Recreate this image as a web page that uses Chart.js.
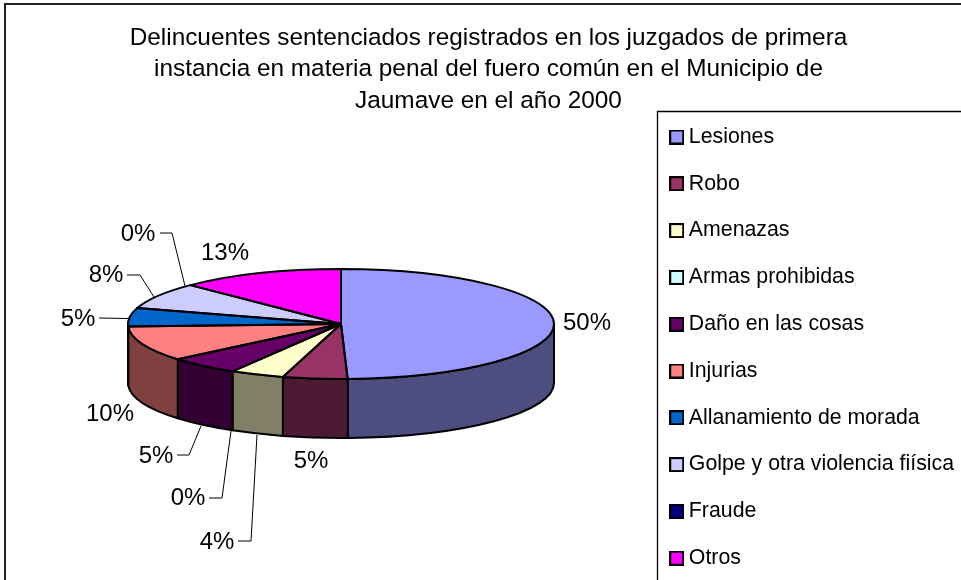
<!DOCTYPE html>
<html>
<head>
<meta charset="utf-8">
<style>
html,body{margin:0;padding:0;background:#fff;}
#wrap{position:relative;width:961px;height:580px;overflow:hidden;}
canvas{display:block;}
</style>
<script src="https://cdn.jsdelivr.net/npm/chart.js@4/dist/chart.umd.min.js"></script>
</head>
<body>
<div id="wrap"><canvas id="c" width="961" height="580"></canvas></div>
<script>
const titleLines = [
  "Delincuentes sentenciados registrados en los juzgados de primera",
  "instancia en materia penal del fuero común en el Municipio de",
  "Jaumave en el año 2000"
];
const categories = ["Lesiones","Robo","Amenazas","Armas prohibidas","Daño en las cosas","Injurias","Allanamiento de morada","Golpe y otra violencia fiísica","Fraude","Otros"];
const shares = [49.5,4.9,4.1,0,5.4,10.4,5.4,7.8,0,12.5];
const shareLabels = ["50%","5%","4%","0%","5%","10%","5%","8%","0%","13%"];
const sliceColors = ["#9999FF","#993366","#FFFFCC","#CCFFFF","#660066","#FF8080","#0066CC","#CCCCFF","#000080","#FF00FF"];

// Layout (not data)
const FONT = '"Liberation Sans", Arial, sans-serif';
const PIE = {cx:341, cy:324, rx:213, ry:55, depth:59};
const labelSpots = {
  0:{x:587,y:323}, 1:{x:311,y:461},
  2:{x:217,y:542,lead:[[238,541],[251,541],[257,435]]},
  3:{x:188,y:498,lead:[[209,498],[222,498],[231,431]]},
  4:{x:156,y:456,lead:[[177,455],[189,455],[201,426]]},
  5:{x:110,y:414},
  6:{x:78,y:319,lead:[[99,318],[128,318.5]]},
  7:{x:106,y:275,lead:[[127,275],[140,275],[154,297]]},
  8:{x:138,y:234,lead:[[160,233],[172,233],[185,286]]},
  9:{x:225,y:253}
};

function shade(hex){
  const n=parseInt(hex.slice(1),16);
  const f=v=>Math.round(v*0.5);
  return `rgb(${f(n>>16&255)},${f(n>>8&255)},${f(n&255)})`;
}
function swatch(color){
  const s=document.createElement('canvas');
  s.width=15;s.height=15;
  const g=s.getContext('2d');
  g.fillStyle=color;g.fillRect(0,0,15,15);
  g.strokeStyle='#000';g.lineWidth=2;g.strokeRect(1,1,13,13);
  return s;
}
const swatches = sliceColors.map(swatch);

const pie3d = {
  id:'pie3d',
  afterLayout(chart){
    const a=chart.chartArea;
    a.left=PIE.cx-PIE.rx;a.right=PIE.cx+PIE.rx;a.top=PIE.cy-PIE.rx;a.bottom=PIE.cy+PIE.rx;
    a.width=2*PIE.rx;a.height=2*PIE.rx;
    const t=chart.titleBlock;
    t.left+=8;t.right+=8;
    const l=chart.legend;
    l.maxHeight=900;l.maxWidth=400;
    l.fit();
    l.left=649.7;l.right=1100;l.top=100.85;l.bottom=900;
    l.width=l.right-l.left;l.height=l.bottom-l.top;
    l.adjustHitBoxes();
  },
  beforeDraw(chart){
    const c=chart.ctx;
    c.save();
    c.fillStyle='#fff';c.fillRect(0,0,961,580);
    c.strokeStyle='#222';c.lineWidth=2;
    c.beginPath();
    c.moveTo(5,600);c.lineTo(5,4);c.lineTo(961,4);
    c.stroke();
    c.strokeStyle='#000';c.lineWidth=1.3;
    c.beginPath();
    c.moveTo(961,111.5);c.lineTo(657.5,111.5);c.lineTo(657.5,600);
    c.stroke();
    c.restore();
  },
  beforeDatasetsDraw(chart){
    const c=chart.ctx, arcs=chart.getDatasetMeta(0).data;
    const {cx,cy,rx,ry,depth}=PIE;
    c.save();
    c.lineJoin='round';
    arcs.forEach((arc,i)=>{
      const p=arc.getProps(['startAngle','endAngle'],true);
      const s=Math.max(p.startAngle,0), e=Math.min(p.endAngle,Math.PI);
      if(e<=s) return;
      c.beginPath();
      c.ellipse(cx,cy,rx,ry,0,s,e);
      c.ellipse(cx,cy+depth,rx,ry,0,e,s,true);
      c.closePath();
      c.fillStyle=shade(sliceColors[i]);
      c.fill();
      c.strokeStyle='#000';c.lineWidth=2;
      c.stroke();
    });
    c.restore();
    c.save();
    c.translate(cx,cy);c.scale(1,ry/rx);c.translate(-cx,-cy);
  },
  afterDatasetsDraw(chart){
    const c=chart.ctx, arcs=chart.getDatasetMeta(0).data;
    c.restore();
    const {cx,cy,rx,ry}=PIE;
    c.save();
    c.strokeStyle='#000';c.lineWidth=2;c.lineJoin='round';
    arcs.forEach(arc=>{
      const p=arc.getProps(['startAngle','endAngle'],true);
      if(p.endAngle-p.startAngle<=0) return;
      c.beginPath();
      c.moveTo(cx,cy);
      c.ellipse(cx,cy,rx,ry,0,p.startAngle,p.endAngle);
      c.closePath();
      c.stroke();
    });
    c.font='24px '+FONT;
    c.fillStyle='#000';c.textAlign='center';c.textBaseline='middle';
    shareLabels.forEach((txt,i)=>{
      const s=labelSpots[i];
      c.fillText(txt,s.x,s.y);
      if(s.lead){
        c.lineWidth=1;
        c.beginPath();
        s.lead.forEach((q,j)=>j?c.lineTo(q[0],q[1]):c.moveTo(q[0],q[1]));
        c.stroke();
      }
    });
    c.restore();
  }
};

new Chart(document.getElementById('c'),{
  type:'pie',
  data:{labels:categories,datasets:[{data:shares,backgroundColor:sliceColors,borderWidth:0,borderColor:'#000'}]},
  options:{
    responsive:false,animation:false,
    devicePixelRatio:1,
    layout:{padding:0},
    plugins:{
      tooltip:{enabled:false},
      title:{display:true,text:titleLines,color:'#000',
        font:{family:FONT,size:24.36,weight:'normal',lineHeight:1.29},
        padding:{top:22.5,bottom:0}},
      legend:{display:true,position:'right',align:'start',
        labels:{
          font:{family:FONT,size:21.3},color:'#000',
          padding:25.5,boxHeight:13,usePointStyle:true,pointStyleWidth:3,
          generateLabels(chart){
            return chart.data.labels.map((t,i)=>({text:t,fontColor:'#000',pointStyle:swatches[i],lineWidth:0,hidden:false,index:i}));
          }
        }
      }
    }
  },
  plugins:[pie3d]
});
</script>
</body>
</html>
